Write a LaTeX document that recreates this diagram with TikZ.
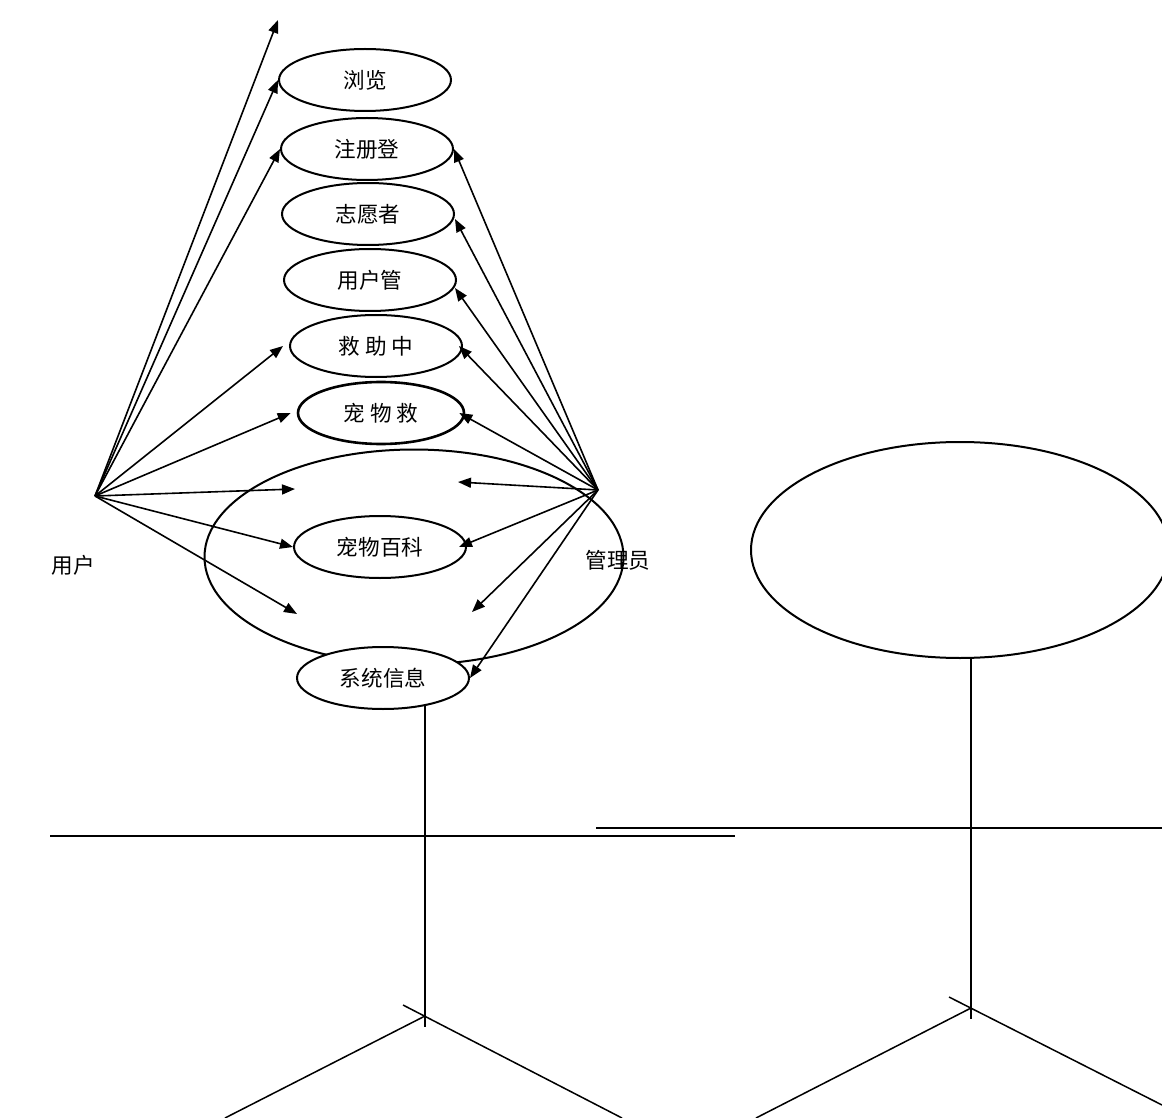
\documentclass[tikz,border=0pt]{standalone}
\usepackage{fontspec}
\setmainfont{Noto Sans CJK SC}
\usetikzlibrary{shapes.geometric, arrows.meta, positioning}

\begin{document}
\begin{tikzpicture}[x=0.5pt, y=-0.5pt,
    usecase/.style={ellipse, draw, line width=1pt, fill=white, minimum width=86pt, minimum height=31pt, inner sep=0pt, font=\fontsize{10.8}{12}\selectfont},
    assoc/.style={line width=0.8pt, -{Triangle[length=6.5pt, width=5pt]}},
    limb/.style={line width=0.75pt},
    arm/.style={line width=1pt}]
    \useasboundingbox (0,0) rectangle (1162,1118);

    % System boundary and actor head
    \node[ellipse, draw, line width=1pt, minimum width=209.5pt, minimum height=107.5pt] (system) at (414,557) {};
    \node[ellipse, draw, line width=1pt, minimum width=209pt, minimum height=108pt] (head) at (960,550) {};

    % Use cases
    \node[usecase] (browse) at (365,80) {浏览};
    \node[usecase] (register) at (367,149) {注册登};
    \node[usecase] (volunteer) at (368,214) {志愿者};
    \node[usecase] (usermgr) at (370,280) {用户管};
    \node[usecase] (rescuectr) at (376,346) {救\ 助\ 中};
    \node[usecase, line width=1.3pt, minimum width=83pt] (petrescue) at (381,413) {宠\ 物\ 救};
    \node[usecase] (petwiki) at (380,547) {宠物百科};
    \node[usecase] (sysinfo) at (383,678) {系统信息};

    % Actors
    \node[font=\fontsize{10.8}{12}\selectfont] (userlbl) at (73,565) {用户};
    \node[font=\fontsize{10.8}{12}\selectfont] (adminlbl) at (618,560) {管理员};
    \coordinate (user) at (95,496);
    \coordinate (admin) at (598,490);

    % Loose arrow ends
    \coordinate (top) at (278,20);
    \coordinate (umid) at (295,489);
    \coordinate (ulow) at (297,614);
    \coordinate (amid) at (458,482);
    \coordinate (alow) at (472,612);

    % User associations
    \draw[assoc] (user) -- (top);
    \draw[assoc] (user) -- (browse.west);
    \draw[assoc] (user) -- (register.west);
    \draw[assoc] (user) -- ([xshift=-3pt]rescuectr.west);
    \draw[assoc] (user) -- ([xshift=-3pt]petrescue.west);
    \draw[assoc] (user) -- (umid);
    \draw[assoc] (user) -- (petwiki.west);
    \draw[assoc] (user) -- (ulow);

    % Admin associations
    \draw[assoc] (admin) -- (register.east);
    \draw[assoc] (admin) -- ([yshift=-2.5pt]volunteer.east);
    \draw[assoc] (admin) -- ([xshift=-1pt, yshift=-4pt]usermgr.east);
    \draw[assoc] (admin) -- ([xshift=-2pt]rescuectr.east);
    \draw[assoc] (admin) -- ([xshift=-3pt]petrescue.east);
    \draw[assoc] (admin) -- (amid);
    \draw[assoc] (admin) -- ([xshift=-4pt]petwiki.east);
    \draw[assoc] (admin) -- (alow);
    \draw[assoc] (admin) -- (sysinfo.east);

    % Left stick figure
    \draw[limb] (425,706) -- (425,1027);
    \draw[arm] (50,836) -- (735,836);
    \draw[limb] (403,1005) -- (622,1118);
    \draw[limb] (425,1016) -- (225,1118);

    % Right stick figure
    \draw[limb] (971,657) -- (971,1019);
    \draw[arm] (596,828) -- (1162,828);
    \draw[limb] (949,997) -- (1162,1105);
    \draw[limb] (971,1008) -- (756,1118);
\end{tikzpicture}
\end{document}
